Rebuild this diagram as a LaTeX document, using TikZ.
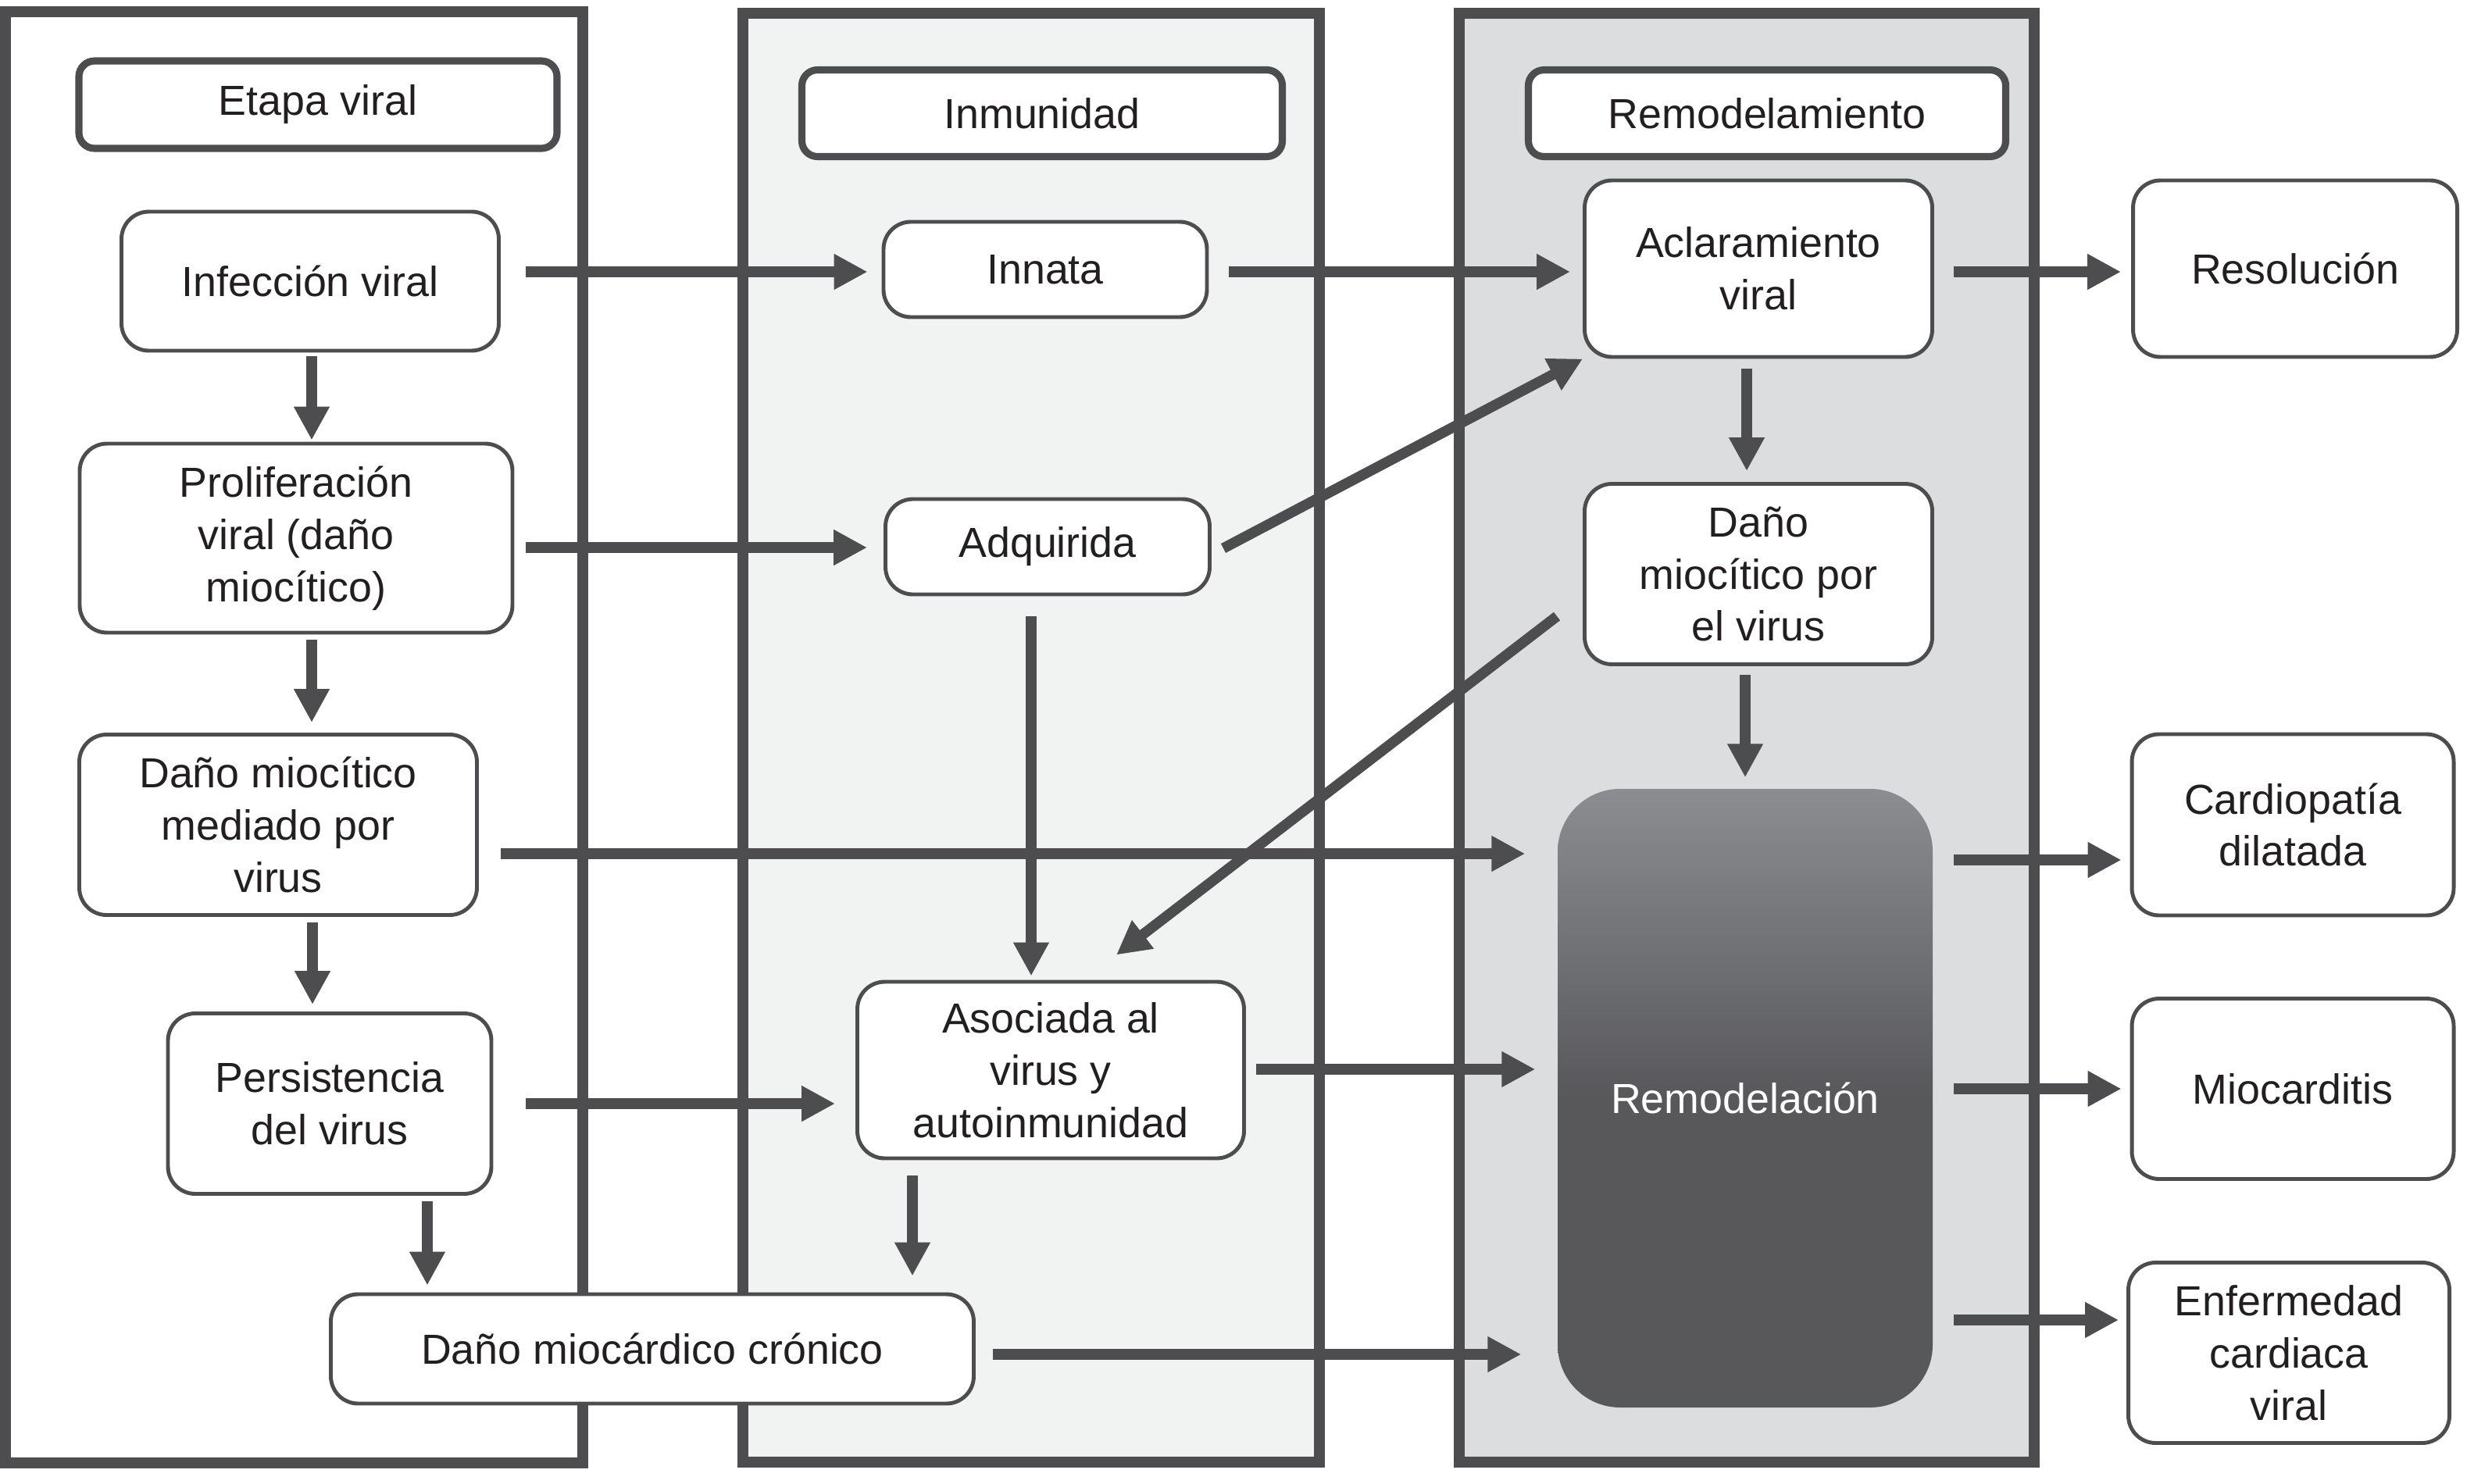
\documentclass[tikz,border=0pt]{standalone}
\usepackage{fontspec}
\setmainfont{Liberation Sans}
\usepackage{tikz}
\usetikzlibrary{calc}
\usetikzlibrary{arrows.meta}

\definecolor{lineGray}{HTML}{4D4D4F}
\definecolor{inkBlack}{HTML}{231F20}
\definecolor{immuneFill}{HTML}{F1F2F2}
\definecolor{remodelFill}{HTML}{DCDDDF}
\definecolor{remTop}{HTML}{8C8D90}
\definecolor{remBottom}{HTML}{58585B}

\begin{document}
\begin{tikzpicture}[
	y=-1cm,
	panel/.style={draw=lineGray, line width=4.2pt},
	header/.style={draw=lineGray, line width=2.6pt, fill=white, rounded corners=0.2cm,
		text=inkBlack, font=\fontsize{15.3}{19}\selectfont},
	box/.style={draw=lineGray, line width=1.4pt, fill=white, rounded corners=0.35cm,
		align=center, text=inkBlack, font=\fontsize{15.3}{19}\selectfont},
	remodel/.style={rounded corners=0.8cm, top color=remTop, bottom color=remBottom,
		middle color=remBottom, text=white, font=\fontsize{15.3}{19}\selectfont},
	flow/.style={draw=lineGray, line width=3.8pt, -{Triangle[length=4.3mm, width=4.3mm]}}
]
\useasboundingbox (0,0) rectangle (31.67,19.0);

% panels
\draw[panel, fill=white] (0.07,0.15) rectangle (7.46,18.73);
\draw[panel, fill=immuneFill] (9.51,0.17) rectangle (16.89,18.72);
\draw[panel, fill=remodelFill] (18.68,0.17) rectangle (26.04,18.72);

\node[header, minimum width=6.12cm, minimum height=1.12cm] (etapa) at (4.07,1.34) {Etapa viral};
\node[header, minimum width=6.15cm, minimum height=1.11cm] (inmunidad) at (13.34,1.45) {Inmunidad};
\node[header, minimum width=6.11cm, minimum height=1.11cm] (remodelamiento) at (22.62,1.45) {Remodelamiento};

% ---

\node[box, minimum width=4.83cm, minimum height=1.78cm] (infeccion) at (3.97,3.60) {Infección viral};
\node[box, minimum width=5.54cm, minimum height=2.42cm] (proliferacion) at (3.79,6.89) {Proliferación\\viral (daño\\miocítico)};
\node[box, minimum width=5.09cm, minimum height=2.31cm] (danoMediado) at (3.56,10.56) {Daño miocítico\\mediado por\\virus};
\node[box, minimum width=4.14cm, minimum height=2.31cm] (persistencia) at (4.22,14.13) {Persistencia\\del virus};
\node[box, minimum width=8.23cm, minimum height=1.40cm] (danoCronico) at (8.35,17.27) {Daño miocárdico crónico};

\node[box, minimum width=4.14cm, minimum height=1.22cm] (innata) at (13.38,3.45) {Innata};
\node[box, minimum width=4.15cm, minimum height=1.22cm] (adquirida) at (13.41,7.00) {Adquirida};
\node[box, minimum width=4.95cm, minimum height=2.26cm] (asociada) at (13.45,13.70) {Asociada al\\virus y\\autoinmunidad};

\node[box, minimum width=4.45cm, minimum height=2.26cm] (aclaramiento) at (22.51,3.44) {Aclaramiento\\viral};
\node[box, minimum width=4.45cm, minimum height=2.31cm] (danoVirus) at (22.51,7.35) {Daño\\miocítico por\\el virus};
\node[remodel, minimum width=4.8cm, minimum height=7.92cm] (remodelacion) at (22.34,14.06) {Remodelación};

\node[box, minimum width=4.15cm, minimum height=2.26cm] (resolucion) at (29.38,3.44) {Resolución};
\node[box, minimum width=4.12cm, minimum height=2.32cm] (cardiopatia) at (29.35,10.56) {Cardiopatía\\dilatada};
\node[box, minimum width=4.12cm, minimum height=2.31cm] (miocarditis) at (29.35,13.94) {Miocarditis};
\node[box, minimum width=4.11cm, minimum height=2.31cm] (enfermedad) at (29.30,17.32) {Enfermedad\\cardiaca\\viral};

% --- top row

\draw[flow] ($(infeccion.east |- innata.west) + (0.32, 0.03)$) -- ($(innata.west) + (-0.18, 0.03)$);
\draw[flow] ($(innata.east) + (0.26, 0.03)$) -- ($(aclaramiento.west |- innata.east) + (-0.16, 0.03)$);
\draw[flow] ($(aclaramiento.east) + (0.25, 0.04)$) -- ($(resolucion.west) + (-0.13, 0.04)$);

% --- viral stage, downwards

\draw[flow] ($(infeccion.south) + (0.02, 0.05)$) -- ($(infeccion.south |- proliferacion.north) + (0.02, -0.02)$);
\draw[flow] ($(proliferacion.south) + (0.2, 0.07)$) -- ($(proliferacion.south |- danoMediado.north) + (0.2, -0.13)$);
\draw[flow] ($(danoMediado.south) + (0.44, 0.07)$) -- ($(danoMediado.south |- persistencia.north) + (0.44, -0.09)$);
\draw[flow] ($(persistencia.south) + (1.25, 0.07)$) -- ($(persistencia.south |- danoCronico.north) + (1.25, -0.09)$);

% --- immunity

\draw[flow] ($(proliferacion.east |- adquirida.west) + (0.15, 0.01)$) -- ($(adquirida.west) + (-0.21, 0.01)$);
\draw[flow] ($(persistencia.east) + (0.42, 0)$) -- ($(asociada.west |- persistencia.east) + (-0.26, 0)$);
\draw[flow] ($(adquirida.south) + (-0.21, 0.26)$) -- ($(adquirida.south |- asociada.north) + (-0.21, -0.05)$);
\draw[flow] ($(asociada.south) + (-1.77, 0.2)$) -- ($(asociada.south |- danoCronico.north) + (-1.77, -0.21)$);

\draw[flow] ($(adquirida.east) + (0.15, 0.02)$) -- (aclaramiento.south west);
\draw[flow] ($(danoVirus.west) + (-0.33, 0.54)$) -- ($(asociada.north) + (0.84, -0.32)$);

% --- remodelling

\draw[flow] ($(aclaramiento.south) + (-0.15, 0.13)$) -- ($(aclaramiento.south |- danoVirus.north) + (-0.15, -0.14)$);
\draw[flow] ($(danoVirus.south) + (-0.17, 0.11)$) -- ($(danoVirus.south |- remodelacion.north) + (-0.17, -0.14)$);
\draw[flow] ($(danoMediado.east) + (0.28, 0.37)$) -- ($(remodelacion.west |- danoMediado.east) + (-0.41, 0.37)$);
\draw[flow] ($(asociada.east) + (0.13, -0.01)$) -- ($(remodelacion.west |- asociada.east) + (-0.28, -0.01)$);
\draw[flow] ($(danoCronico.east) + (0.22, 0.07)$) -- ($(remodelacion.west |- danoCronico.east) + (-0.46, 0.07)$);

% --- outcomes

\draw[flow] ($(remodelacion.east |- cardiopatia.west) + (0.26, 0.45)$) -- ($(cardiopatia.west) + (-0.11, 0.45)$);
\draw[flow] ($(remodelacion.east |- miocarditis.west) + (0.26, 0)$) -- ($(miocarditis.west) + (-0.11, 0)$);
\draw[flow] ($(remodelacion.east |- enfermedad.west) + (0.26, -0.42)$) -- ($(enfermedad.west) + (-0.10, -0.42)$);

\end{tikzpicture}
\end{document}
